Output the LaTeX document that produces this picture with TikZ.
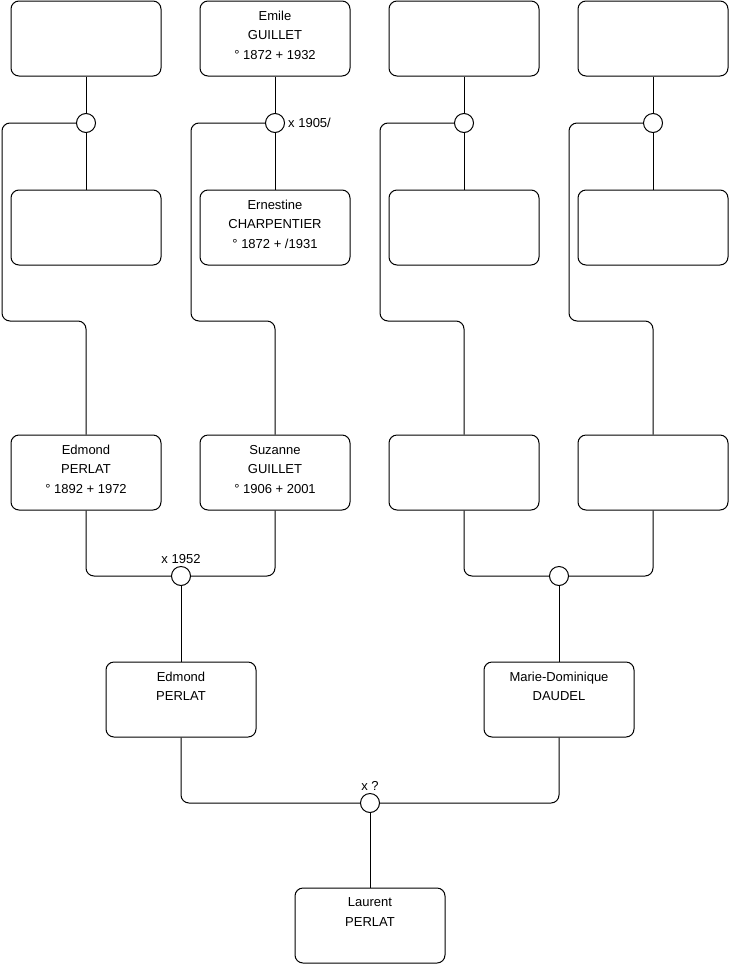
\documentclass[tikz,border=0pt]{standalone}
\usepackage{fontspec}
\setmainfont{Liberation Sans}
\usetikzlibrary{positioning}

\newcommand{\fiche}[1]{\parbox[c][55pt][t]{148pt}{\centering\fontsize{13}{19.5}\selectfont #1}}

\begin{document}
\begin{tikzpicture}[
    x=1pt, y=-1pt,
    font=\fontsize{13}{15}\selectfont,
    person/.style={draw, rounded corners=8pt, line width=1pt, minimum width=150pt, minimum height=75pt, inner sep=0pt},
    union/.style={circle, draw, fill=white, line width=1pt, minimum size=19pt, inner sep=0pt},
    link/.style={line width=1pt, rounded corners=8pt}
]
\useasboundingbox (0,0) rectangle (740,975);

% Define persons
\node[person] (g1) at (86,38.5) {};
\node[person] (g2) at (275,38.5) {\fiche{Emile\\GUILLET\\° 1872 + 1932}};
\node[person] (g3) at (464,38.5) {};
\node[person] (g4) at (653,38.5) {};

\node[person] (f1) at (86,227.5) {};
\node[person] (f2) at (275,227.5) {\fiche{Ernestine\\CHARPENTIER\\° 1872 + /1931}};
\node[person] (f3) at (464,227.5) {};
\node[person] (f4) at (653,227.5) {};

\node[person] (p1) at (86,472.5) {\fiche{Edmond\\PERLAT\\° 1892 + 1972}};
\node[person] (p2) at (275,472.5) {\fiche{Suzanne\\GUILLET\\° 1906 + 2001}};
\node[person] (p3) at (464,472.5) {};
\node[person] (p4) at (653,472.5) {};

\node[person] (e1) at (181,699.5) {\fiche{Edmond\\PERLAT}};
\node[person] (e2) at (559,699.5) {\fiche{Marie-Dominique\\DAUDEL}};

\node[person] (l1) at (370,925.5) {\fiche{Laurent\\PERLAT}};

% Define unions
\node[union, label={[inner sep=3pt]right:x 1905/}] (m2) at (275,123) {};
\node[union] (m1) at (86,123) {};
\node[union] (m3) at (464,123) {};
\node[union] (m4) at (653,123) {};
\node[union, label={[inner sep=2pt]above:x 1952}] (m5) at (181,576) {};
\node[union] (m6) at (559,576) {};
\node[union, label={[inner sep=2pt]above:x ?}] (m7) at (370,803) {};

% Define bends
\coordinate (k1) at (2,321);
\coordinate (k2) at (191,321);
\coordinate (k3) at (380,321);
\coordinate (k4) at (569,321);

% Define links
\draw[link] (g1) -- (m1);
\draw[link] (m1) -- (f1);
\draw[link] (g2) -- (m2);
\draw[link] (m2) -- (f2);
\draw[link] (g3) -- (m3);
\draw[link] (m3) -- (f3);
\draw[link] (g4) -- (m4);
\draw[link] (m4) -- (f4);

\draw[link] (m1.west) -| (k1) -| (p1.north);
\draw[link] (m2.west) -| (k2) -| (p2.north);
\draw[link] (m3.west) -| (k3) -| (p3.north);
\draw[link] (m4.west) -| (k4) -| (p4.north);

\draw[link] (p1.south) |- (m5.west);
\draw[link] (p2.south) |- (m5.east);
\draw[link] (p3.south) |- (m6.west);
\draw[link] (p4.south) |- (m6.east);
\draw[link] (m5) -- (e1);
\draw[link] (m6) -- (e2);

\draw[link] (e1.south) |- (m7.west);
\draw[link] (e2.south) |- (m7.east);
\draw[link] (m7) -- (l1);

\end{tikzpicture}
\end{document}
